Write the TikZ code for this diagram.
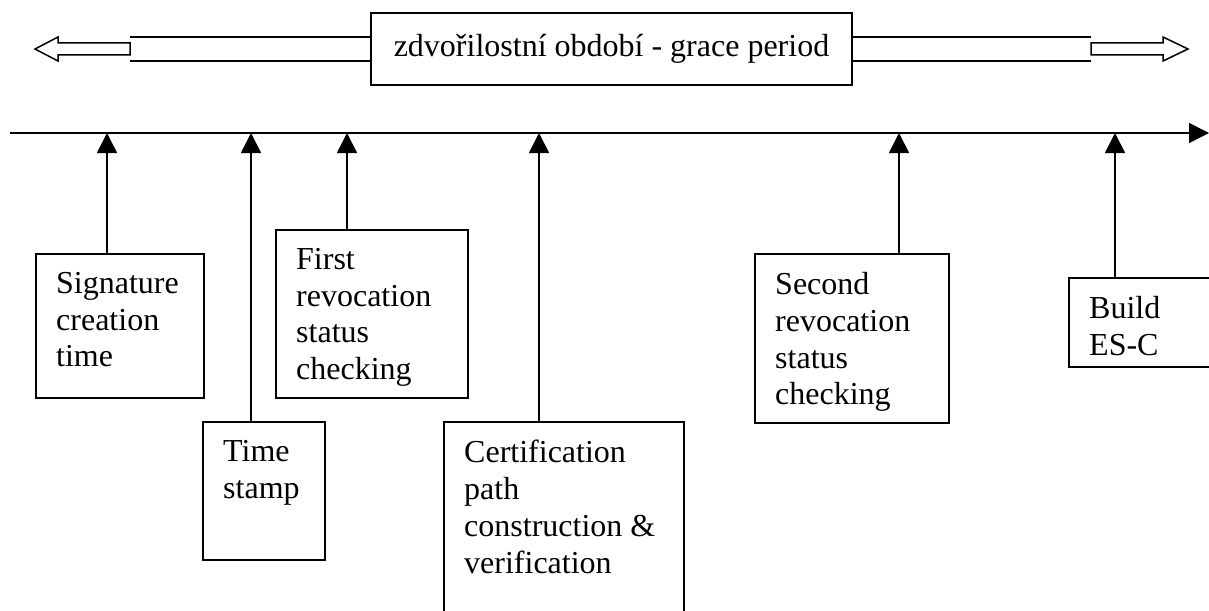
\documentclass[tikz,border=0pt]{standalone}
\usepackage{fontspec}
\setmainfont{Liberation Serif}
\usetikzlibrary{arrows.meta}

\begin{document}
\begin{tikzpicture}
[x=1pt,y=-1pt,
  lineDecorate/.style={line width=1.5pt},
  boxDecorate/.style={draw,line width=1.5pt,anchor=north west,inner sep=0pt},
  textDecorate/.style={anchor=north west,align=left,inner sep=0pt,
    font=\fontsize{32}{36.8}\selectfont},
  tipDecorate/.style={-{Triangle[length=20pt,width=20pt]},line width=1.5pt}]
\useasboundingbox (0,0) rectangle (1209,610);
\clip (0,0) rectangle (1209,610);
%% grace period box and its hollow arrows
\node (gp) at (611.5,49) [draw,line width=1.5pt,minimum width=481pt,
  minimum height=72pt,font=\fontsize{32}{36.8}\selectfont]
  {zdvořilostní období - grace period};
\coordinate (lU) at (130,37);
\coordinate (lD) at (130,61);
\coordinate (rU) at (1091,37);
\coordinate (rD) at (1091,61);
\draw[lineDecorate] (lU) -- (lU -| gp.west) (lD) -- (lD -| gp.west);
\draw[lineDecorate] (rU) -- (rU -| gp.east) (rD) -- (rD -| gp.east);
\draw[lineDecorate,line join=miter] (35,49) -- (58,37) -- (58,43) -- (130,43)
  -- (130,55) -- (58,55) -- (58,61) -- cycle;
\draw[lineDecorate,line join=miter] (1188,49) -- (1163,37) -- (1163,43) -- (1091,43)
  -- (1091,55) -- (1163,55) -- (1163,61) -- cycle;
%% time line
\coordinate (tlS) at (10,133);
\coordinate (tlE) at (1209,133);
\draw[tipDecorate] (tlS) -- (tlE);
%% boxes below the time line
\foreach \nodename/\x/\y/\w/\h/\tick/\txt in {
  sig/35/253/168/144/107/{Signature\\creation\\time},
  tst/202/421/122/138/251/{Time\\stamp},
  frc/275/229/192/168/347/{First\\revocation\\status\\checking},
  cpv/443/421/240/220/539/{Certification\\path\\construction \&\\verification},
  src/754/253/194/169/899/{Second\\revocation\\status\\checking},
  esc/1068/277/160/89/1115/{Build\\ES-C}}
{
  \node (\nodename) at (\x,\y) [boxDecorate,minimum width=\w pt,
    minimum height=\h pt] {};
  \node (\nodename txt) at ([shift={(21,19)}]\nodename.north west)
    [textDecorate] {\txt};
  \coordinate (\nodename tick) at (\tick,133);
  \draw[tipDecorate] (\nodename.north -| \nodename tick) -- (\nodename tick);
}
\end{tikzpicture}
\end{document}
